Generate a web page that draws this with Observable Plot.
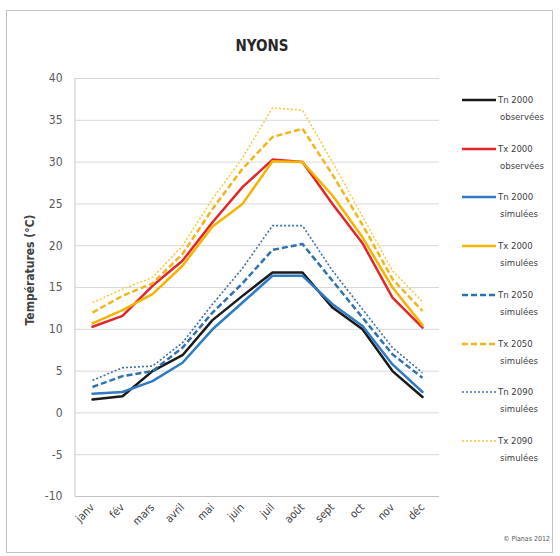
<!DOCTYPE html>
<html><head><meta charset="utf-8">
<script src="https://cdn.jsdelivr.net/npm/d3@7"></script>
<script src="https://cdn.jsdelivr.net/npm/@observablehq/plot@0.6"></script>
<style>
body{margin:0;background:#fff;}
#wrap{position:relative;width:560px;height:556px;overflow:hidden;font-family:"Liberation Sans Narrow","Arial Narrow","DejaVu Sans Condensed",sans-serif;}
#frame{position:absolute;left:6px;top:10px;width:547px;height:543px;border:1px solid #c4c4c4;box-sizing:border-box;}
#chart{position:absolute;left:0;top:0;}
#title{position:absolute;left:212px;width:100px;top:37px;text-align:center;font-weight:bold;font-size:15px;color:#262626;}
#ylab{position:absolute;left:30px;top:270px;transform:translate(-50%,-50%) rotate(-90deg);white-space:nowrap;font-weight:bold;font-size:12px;color:#404040;}
#legend{position:absolute;left:0;top:0;}
.lg{position:absolute;font-size:9.5px;color:#404040;line-height:12px;white-space:nowrap;}
#copy{position:absolute;right:10px;top:535px;font-size:7px;color:#595959;}
</style></head>
<body>
<div id="wrap">
  <div id="frame"></div>
  <div id="chart"></div>
  <div id="title">NYONS</div>
  <div id="ylab">Températures (°C)</div>
  <div id="legend"></div>
  <div id="copy">© Planas 2012</div>
</div>
<script>
const months = ["janv","fév","mars","avril","mai","juin","juil","août","sept","oct","nov","déc"];
const yTicks = [-10,-5,0,5,10,15,20,25,30,35,40];

const tnObs2000 = [1.6, 2.0, 5.0, 6.9, 11.1, 14.0, 16.8, 16.8, 12.6, 10.0, 5.0, 1.9];
const txObs2000 = [10.3, 11.6, 15.2, 18.2, 22.8, 27.0, 30.3, 30.0, 25.0, 20.3, 13.8, 10.2];
const tnSim2000 = [2.3, 2.5, 3.8, 6.0, 10.0, 13.2, 16.4, 16.4, 13.0, 10.4, 5.8, 2.5];
const txSim2000 = [10.7, 12.3, 14.2, 17.6, 22.3, 25.0, 30.1, 30.0, 26.0, 21.0, 15.0, 10.5];
const tnSim2050 = [3.1, 4.4, 5.0, 7.8, 12.0, 15.5, 19.5, 20.2, 15.8, 11.4, 7.0, 4.2];
const txSim2050 = [12.0, 14.0, 15.5, 19.0, 24.4, 29.2, 33.0, 34.0, 28.5, 22.5, 16.0, 12.2];
const tnSim2090 = [3.9, 5.4, 5.6, 8.4, 13.0, 17.3, 22.4, 22.4, 17.0, 12.4, 7.8, 4.8];
const txSim2090 = [13.2, 14.8, 16.2, 20.0, 25.6, 30.5, 36.5, 36.2, 30.0, 23.5, 17.0, 13.3];

const seriesNames = ["Tn 2000 observées","Tx 2000 observées","Tn 2000 simulées","Tx 2000 simulées","Tn 2050 simulées","Tx 2050 simulées","Tn 2090 simulées","Tx 2090 simulées"];
const seriesValues = [tnObs2000, txObs2000, tnSim2000, txSim2000, tnSim2050, txSim2050, tnSim2090, txSim2090];
const seriesColors = ["#1a1a1a","#e3262b","#2e7bc4","#f5b400","#2f72b0","#f2b51c","#3d6fa8","#f7c431"];
const seriesWidths = [2.5, 2.5, 2.5, 2.5, 2.5, 2.5, 1.6, 1.4];
const seriesDash = [null, null, null, null, "6,3", "6,3", "2,2", "2,2"];

const rows = seriesValues.flatMap((vals, s) => vals.map((v, i) => ({month: months[i], value: v, s})));

const lineMarks = seriesValues.map((vals, s) => Plot.line(rows.filter(d => d.s === s), {
  x: "month", y: "value",
  stroke: seriesColors[s], strokeWidth: seriesWidths[s],
  strokeDasharray: seriesDash[s] ?? undefined,
  strokeLinejoin: "round", strokeLinecap: seriesDash[s] ? "butt" : "round"
}));

const leftLine = (index, scales, values, dims) => {
  const l = document.createElementNS("http://www.w3.org/2000/svg", "line");
  l.setAttribute("x1", dims.marginLeft); l.setAttribute("x2", dims.marginLeft);
  l.setAttribute("y1", dims.marginTop); l.setAttribute("y2", dims.height - dims.marginBottom);
  l.setAttribute("stroke", "#c8c8c8");
  return l;
};

const plot = Plot.plot({
  width: 560, height: 556,
  marginLeft: 75, marginRight: 121, marginTop: 78, marginBottom: 60,
  style: {fontFamily: '"Liberation Sans Narrow","Arial Narrow","DejaVu Sans Condensed",sans-serif', background: "transparent"},
  x: {type: "point", domain: months, padding: 0.5},
  y: {domain: [-10, 40]},
  marks: [
    Plot.gridY(yTicks, {stroke: "#d9d9d9", strokeOpacity: 1}),
    Plot.ruleY([-10], {stroke: "#c0c0c0"}),
    leftLine,
    Plot.axisY(yTicks, {tickSize: 0, tickPadding: 13, fontSize: 12, color: "#595959", label: null, tickFormat: d => String(d)}),
    Plot.axisX({tickRotate: -45, tickSize: 0, tickPadding: 9, fontSize: 11, color: "#404040", label: null}),
    ...lineMarks
  ]
});
document.getElementById("chart").appendChild(plot);

// legend
const lg = document.getElementById("legend");
seriesNames.forEach((name, s) => {
  const y = 100 + 48.7 * s;
  const svg = document.createElementNS("http://www.w3.org/2000/svg", "svg");
  svg.setAttribute("width", 36); svg.setAttribute("height", 8);
  svg.style.position = "absolute"; svg.style.left = "461px"; svg.style.top = (y - 4) + "px";
  const ln = document.createElementNS("http://www.w3.org/2000/svg", "line");
  ln.setAttribute("x1", 1); ln.setAttribute("x2", 35); ln.setAttribute("y1", 4); ln.setAttribute("y2", 4);
  ln.setAttribute("stroke", seriesColors[s]); ln.setAttribute("stroke-width", seriesWidths[s]);
  if (seriesDash[s]) ln.setAttribute("stroke-dasharray", seriesDash[s]);
  svg.appendChild(ln);
  lg.appendChild(svg);
  const parts = name.split(" ");
  const t1 = document.createElement("div");
  t1.className = "lg"; t1.textContent = parts[0] + " " + parts[1];
  t1.style.left = "498px"; t1.style.top = (y - 6) + "px";
  lg.appendChild(t1);
  const t2 = document.createElement("div");
  t2.className = "lg"; t2.textContent = parts[2];
  t2.style.left = "500px"; t2.style.top = (y + 11) + "px";
  lg.appendChild(t2);
});
</script>
</body></html>
